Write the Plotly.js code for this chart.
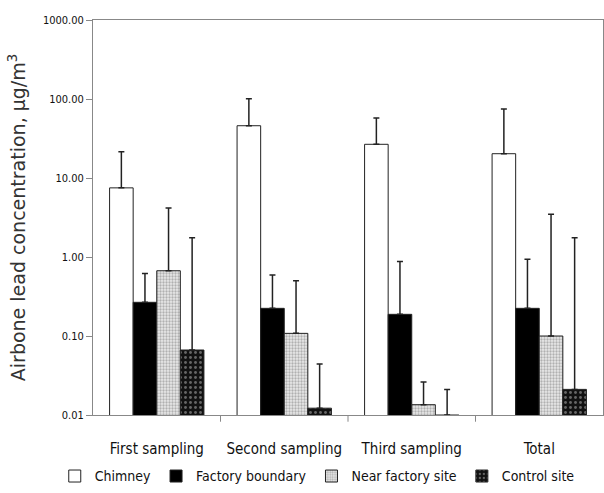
<!DOCTYPE html>
<html><head><meta charset="utf-8">
<script src="https://cdn.plot.ly/plotly-3.0.1.min.js"></script>
<style>html,body{margin:0;padding:0;background:#fff}#chart{width:604px;height:493px}</style>
</head><body><div id="chart"></div>
<script>
const categories = ["First sampling", "Second sampling", "Third sampling", "Total"];
const chimney = [7.5, 45.9, 26.7, 20.3];
const chimneyErr = [14.0, 55.0, 30.8, 54.4];
const factory = [0.267, 0.224, 0.188, 0.224];
const factoryErr = [0.353, 0.366, 0.692, 0.711];
const nearSite = [0.67, 0.108, 0.0135, 0.1];
const nearSiteErr = [3.5, 0.392, 0.0127, 3.37];
const control = [0.0665, 0.0122, 0.01, 0.0211];
const controlErr = [1.68, 0.0321, 0.0111, 1.73];
const yTickVals = [0.01, 0.1, 1, 10, 100, 1000];
const yTickText = ["0.01", "0.10", "1.00", "10.00", "100.00", "1000.00"];

const cond = "'DejaVu Sans Condensed', 'Liberation Sans Narrow', sans-serif";
const wide = "'DejaVu Sans', Verdana, sans-serif";
function err(a){ return {type:'data', symmetric:false, array:a, arrayminus:a.map(()=>0), color:'#222', thickness:1.5, width:3}; }
const line = {color:'#222', width:1};
const traces = [
  {type:'bar', name:'Chimney', x:categories, y:chimney, error_y:err(chimneyErr),
   marker:{color:'#ffffff', line:line}},
  {type:'bar', name:'Factory boundary', x:categories, y:factory, error_y:err(factoryErr),
   marker:{color:'#000000', line:line}},
  {type:'bar', name:'Near factory site', x:categories, y:nearSite, error_y:err(nearSiteErr),
   marker:{color:'#d8d8d8', line:line, pattern:{shape:'.', bgcolor:'#e8e8e8', fgcolor:'#777777', size:3, solidity:0.45, fillmode:'overlay'}}},
  {type:'bar', name:'Control site', x:categories, y:control, error_y:err(controlErr),
   marker:{color:'#111111', line:line, pattern:{shape:'.', bgcolor:'#111111', fgcolor:'#bbbbbb', size:5, solidity:0.25, fillmode:'overlay'}}}
];
const layout = {
  width:604, height:493,
  margin:{l:93, r:1, t:20, b:78},
  paper_bgcolor:'#fff', plot_bgcolor:'#fff',
  barmode:'group', bargap:0.26, bargroupgap:0,
  font:{family:cond, color:'#111', size:14},
  showlegend:true,
  legend:{orientation:'h', x:-0.075, xanchor:'left', y:-0.196, yanchor:'bottom',
    font:{family:cond, size:14, color:'#111'}, itemwidth:30, traceorder:'normal', tracegroupgap:0, borderwidth:0,
    bgcolor:'rgba(0,0,0,0)'},
  xaxis:{type:'category', showline:true, linecolor:'#888', linewidth:1, mirror:true,
    ticks:'', ticklabelstandoff:20, tickfont:{family:cond, size:15, color:'#111'}, showgrid:false, zeroline:false},
  yaxis:{type:'log', range:[-2, 3], tickvals:yTickVals, ticktext:yTickText,
    showline:true, linecolor:'#888', linewidth:1, mirror:true, ticks:'outside', ticklen:6, tickcolor:'#888',
    showgrid:false, zeroline:false, tickfont:{family:cond, size:11, color:'#111'},
    title:{text:'Airbone lead concentration, μg/m<sup>3</sup>', font:{family:wide, size:19, color:'#333'}, standoff:12}},
  shapes: [1,2,3].map(i => ({type:'line', xref:'x', yref:'paper', x0:i-0.5, x1:i-0.5, y0:0, y1:-0.017, line:{color:'#888', width:1}}))
};
Plotly.newPlot('chart', traces, layout, {displayModeBar:false});
</script></body></html>
